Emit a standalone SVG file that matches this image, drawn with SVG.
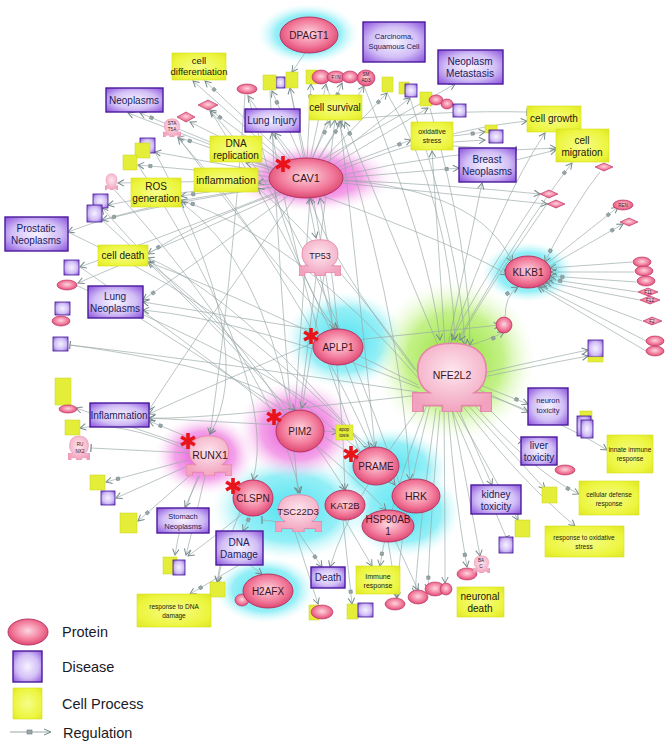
<svg xmlns="http://www.w3.org/2000/svg" xmlns:xlink="http://www.w3.org/1999/xlink" width="669" height="746" viewBox="0 0 669 746">
<defs>
<style>
text{font-family:"Liberation Sans",Arial,sans-serif;text-anchor:middle}
.c{fill:none;stroke:#98a6a6;stroke-width:.65;marker-end:url(#b)}
.r{fill:none;stroke:#98a6a6;stroke-width:.65;marker-end:url(#a)}
.t{fill:none;stroke:#98a6a6;stroke-width:.65;marker-end:url(#t)}
.p{fill:url(#gP);stroke:#b42c5c;stroke-width:.9}
.d{fill:url(#gD);stroke:#4a1a9c;stroke-width:1.4}
.y{fill:url(#gY);stroke:#d6e21c;stroke-width:.6}
.sd{fill:url(#gD);stroke:#3e1690;stroke-width:.8}
.sy{fill:#e4ee38;stroke:#c8d41c;stroke-width:.5}
.sp{fill:url(#gP);stroke:#b42c5c;stroke-width:.6}
.pt{fill:#3b1426;font-size:10px}
.dt{fill:#221a5e;font-size:10px}
.yt{fill:#222008;font-size:10px}
.tiny{fill:#3b1426;font-size:4.6px}
.lg{fill:#1a1a2a;font-size:14.5px;text-anchor:start}
</style>
<radialGradient id="gP" cx="50%" cy="45%" r="60%"><stop offset="0" stop-color="#fcd6e0"/><stop offset=".6" stop-color="#f27a9a"/><stop offset="1" stop-color="#d73c6a"/></radialGradient>
<radialGradient id="gR" cx="50%" cy="40%" r="60%"><stop offset="0" stop-color="#fde6ee"/><stop offset="1" stop-color="#f2a2be"/></radialGradient>
<radialGradient id="gD" cx="50%" cy="50%" r="70%"><stop offset="0" stop-color="#f6f2ff"/><stop offset=".55" stop-color="#d2bff6"/><stop offset="1" stop-color="#8a50dc"/></radialGradient>
<radialGradient id="gY" cx="50%" cy="50%" r="70%"><stop offset="0" stop-color="#f6fd8a"/><stop offset=".7" stop-color="#ecf53c"/><stop offset="1" stop-color="#dde624"/></radialGradient>
<radialGradient id="hC"><stop offset="0" stop-color="#4fe2f0"/><stop offset=".65" stop-color="#82ecf5" stop-opacity=".85"/><stop offset="1" stop-color="#d2f9fc" stop-opacity="0"/></radialGradient>
<radialGradient id="hM"><stop offset="0" stop-color="#e23ed2"/><stop offset=".6" stop-color="#f083e2" stop-opacity=".75"/><stop offset="1" stop-color="#fbe0f6" stop-opacity="0"/></radialGradient>
<radialGradient id="hG"><stop offset="0" stop-color="#8ede2c"/><stop offset=".6" stop-color="#b4ee6a" stop-opacity=".8"/><stop offset="1" stop-color="#e8fbd0" stop-opacity="0"/></radialGradient>
<marker id="a" viewBox="-16 -5 18 10" refX="0" refY="0" markerWidth="18" markerHeight="10" markerUnits="userSpaceOnUse" orient="auto" overflow="visible">
<path d="M-6,-3.2L0,0L-6,3.2" fill="none" stroke="#74888a" stroke-width="1"/><rect x="-14" y="-1.6" width="3.2" height="3.2" fill="#9aa6a6" stroke="#74888a" stroke-width=".6"/></marker>
<marker id="b" viewBox="-8 -5 10 10" refX="0" refY="0" markerWidth="10" markerHeight="10" markerUnits="userSpaceOnUse" orient="auto" overflow="visible">
<path d="M-6,-3.2L0,0L-6,3.2" fill="none" stroke="#74888a" stroke-width="1"/></marker>
<marker id="t" viewBox="-4 -5 8 10" refX="0" refY="0" markerWidth="8" markerHeight="10" markerUnits="userSpaceOnUse" orient="auto" overflow="visible">
<path d="M0,-4V4" fill="none" stroke="#74888a" stroke-width="1.2"/></marker>
<symbol id="rec" viewBox="0 0 100 90" preserveAspectRatio="none">
<path d="M22,66C4,56 2,26 18,13C32,1 68,1 82,13C98,26 96,56 78,66L100,66L100,90L86,90L86,82L62,82L62,90L38,90L38,82L14,82L14,90L0,90L0,66Z" fill="url(#gR)" stroke="#e486a8" stroke-width="2"/>
</symbol>
<g id="ast"><path d="M0,-8V8M-6.9,-4L6.9,4M-6.9,4L6.9,-4" stroke="#e8141a" stroke-width="3.6"/></g>
</defs>
<rect width="669" height="746" fill="#fff"/>

<g id="halos">
<ellipse cx="308" cy="34" rx="50" ry="30" fill="url(#hC)"/>
<ellipse cx="312" cy="178" rx="82" ry="34" fill="url(#hM)"/>
<ellipse cx="528" cy="272" rx="46" ry="30" fill="url(#hC)"/>
<ellipse cx="345" cy="340" rx="60" ry="48" fill="url(#hC)"/>
<ellipse cx="455" cy="360" rx="80" ry="80" fill="url(#hG)"/>
<ellipse cx="390" cy="470" rx="58" ry="42" fill="url(#hC)"/>
<ellipse cx="405" cy="512" rx="55" ry="45" fill="url(#hC)"/>
<ellipse cx="290" cy="508" rx="78" ry="52" fill="url(#hC)"/>
<ellipse cx="205" cy="455" rx="50" ry="40" fill="url(#hM)"/>
<ellipse cx="297" cy="430" rx="60" ry="50" fill="url(#hM)"/>
<ellipse cx="265" cy="590" rx="50" ry="33" fill="url(#hC)"/>
</g>

<g id="connectors">
<path class="r" d="M300,170L205,81"/><path class="c" d="M296,172L193,81"/>
<path class="r" d="M290,175L140,113"/><path class="c" d="M292,176L128,113"/>
<path class="c" d="M300,165L275,133"/><path class="r" d="M310,162L330,121"/><path class="r" d="M316,164L342,121"/>
<path class="c" d="M290,175L246,163"/><path class="c" d="M285,178L258,183"/>
<path class="r" d="M285,182Q220,190 181,196"/><path class="c" d="M284,186Q150,200 68,232"/>
<path class="r" d="M288,190Q200,220 148,254"/><path class="c" d="M308,198L316,238"/>
<path class="r" d="M330,170L411,140"/><path class="c" d="M335,172Q440,130 527,121"/>
<path class="c" d="M338,176Q450,150 556,148"/><path class="r" d="M340,178L459,168"/>
<path class="c" d="M342,180Q450,185 540,194"/><path class="c" d="M342,183Q460,195 547,204"/>
<path class="r" d="M302,160L272,91"/><path class="c" d="M304,160L290,88"/><path class="r" d="M307,160L311,84"/>
<path class="c" d="M310,160L326,84"/><path class="r" d="M312,160L342,83"/><path class="c" d="M316,162L364,86"/>
<path class="r" d="M320,163L387,93"/><path class="c" d="M324,165L410,98"/><path class="c" d="M328,168L428,108"/>
<path class="c" d="M295,165L248,96"/><path class="c" d="M318,162L455,84"/>
<path class="r" d="M292,170L210,110"/><path class="c" d="M290,172L190,122"/><path class="r" d="M288,174L178,137"/>
<path class="c" d="M287,176L155,152"/><path class="r" d="M286,178L138,165"/><path class="c" d="M286,180L118,183"/>
<path class="c" d="M286,183Q180,190 108,205"/><path class="r" d="M286,185Q180,200 102,220"/>
<path class="c" d="M288,188Q180,230 80,267"/><path class="c" d="M290,190Q180,240 78,283"/>
<path class="r" d="M292,193Q200,260 143,300"/><path class="c" d="M296,196Q200,330 149,410"/>
<path class="c" d="M305,53L292,72"/>
<path class="r" d="M440,350L345,122"/><path class="c" d="M450,345Q500,200 545,133"/>
<path class="r" d="M455,345Q520,230 572,163"/><path class="c" d="M448,345L482,183"/>
<path class="c" d="M445,345L432,151"/><path class="r" d="M460,348Q490,340 504,332"/>
<path class="c" d="M475,375Q540,360 588,350"/><path class="c" d="M478,378Q540,365 588,356"/>
<path class="r" d="M480,385L528,404"/><path class="c" d="M480,390L528,412"/>
<path class="t" d="M475,395L521,441"/><path class="c" d="M478,392Q560,420 607,450"/>
<path class="r" d="M470,400Q530,470 579,494"/><path class="c" d="M465,402L545,489"/>
<path class="c" d="M462,405Q520,480 575,526"/><path class="c" d="M458,408L492,485"/>
<path class="c" d="M456,410L518,520"/><path class="t" d="M452,410L506,537"/>
<path class="r" d="M448,410Q455,500 467,567"/><path class="c" d="M452,410Q470,500 480,556"/>
<path class="c" d="M444,410Q445,520 445,583"/><path class="r" d="M440,410Q430,520 428,590"/>
<path class="c" d="M436,408Q420,520 415,594"/><path class="c" d="M430,405Q400,520 397,598"/>
<path class="r" d="M428,402Q390,500 380,566"/><path class="c" d="M420,395Q200,420 149,418"/>
<path class="c" d="M418,385Q250,300 148,262"/><path class="r" d="M420,380Q300,240 181,200"/>
<path class="c" d="M422,378Q330,250 258,188"/><path class="c" d="M420,388Q250,320 143,310"/>
<path class="t" d="M418,392Q200,360 70,345"/><path class="c" d="M425,400Q350,500 330,567"/>
<path class="c" d="M415,370Q330,260 310,198"/>
<path class="r" d="M545,265L618,207"/><path class="r" d="M548,267L623,224"/>
<path class="c" d="M632,262L550,268"/><path class="c" d="M634,272L551,272"/><path class="r" d="M636,282L550,276"/>
<path class="r" d="M638,292L548,279"/><path class="c" d="M640,300L546,282"/><path class="c" d="M642,321L543,284"/>
<path class="c" d="M646,341L540,286"/><path class="c" d="M646,351L538,287"/>
<path class="r" d="M505,318Q505,295 518,287"/><path class="c" d="M340,180Q480,190 512,262"/>
<path class="c" d="M320,195Q470,250 507,275"/><path class="r" d="M600,172L588,188Q560,230 545,262"/>
<path class="c" d="M322,431L338,432"/><path class="c" d="M280,425L149,418"/>
<path class="c" d="M285,415Q240,330 148,262"/><path class="c" d="M290,410Q260,260 181,202"/>
<path class="c" d="M295,410L310,198"/><path class="c" d="M300,410L335,120"/>
<path class="t" d="M190,453L91,448"/><path class="r" d="M188,460L106,482"/><path class="c" d="M190,465L116,498"/>
<path class="r" d="M194,472L138,521"/><path class="c" d="M200,475L185,507"/><path class="r" d="M195,440L149,421"/>
<path class="c" d="M188,450Q120,420 80,428"/><path class="c" d="M190,447L76,408"/>
<path class="c" d="M198,476Q180,520 175,555"/><path class="c" d="M205,476Q195,520 186,555"/>
<path class="r" d="M250,516L243,531"/><path class="c" d="M245,512Q210,540 188,556"/>
<path class="c" d="M240,512Q220,560 218,583"/><path class="r" d="M298,532L322,567"/>
<path class="c" d="M295,532L318,604"/><path class="c" d="M345,520L372,566"/><path class="r" d="M343,520L352,604"/>
<path class="c" d="M388,541L397,598"/><path class="c" d="M395,540L418,590"/>
<path class="r" d="M239,565L190,594"/><path class="c" d="M250,565L262,574"/><path class="c" d="M220,565L217,582"/>
<path class="t" d="M300,532Q280,520 262,520"/>
<path class="c" d="M360,452Q300,300 272,133"/><path class="c" d="M375,448Q360,300 340,121"/>
<path class="c" d="M395,485Q250,300 148,258"/><path class="c" d="M400,485Q300,200 210,111"/>
<path class="c" d="M372,448Q280,250 178,138"/><path class="c" d="M360,460L115,302"/>
<path class="c" d="M365,455Q200,320 102,208"/>
<path class="c" d="M320,276L334,329"/><path class="c" d="M324,276L302,408"/>
<path class="c" d="M338,329Q330,250 320,198"/><path class="c" d="M315,330L143,302"/>
<path class="c" d="M320,340Q200,390 149,414"/><path class="c" d="M355,340L500,325"/>
<path class="c" d="M70,345Q250,370 295,410"/><path class="c" d="M75,285Q300,380 370,448"/>
<path class="c" d="M68,232Q280,330 395,485"/><path class="c" d="M80,267Q300,420 386,510"/>
<path class="c" d="M102,220Q280,380 345,490"/><path class="c" d="M110,185Q270,360 300,493"/>
<path class="c" d="M138,165Q280,380 253,480"/><path class="c" d="M155,152Q260,350 210,434"/>
<path class="c" d="M178,137Q300,300 338,329"/><path class="c" d="M210,110Q330,300 375,448"/>
<path class="c" d="M270,91Q280,300 298,493"/><path class="c" d="M290,88Q340,300 345,490"/>
<path class="c" d="M326,84Q400,300 410,480"/><path class="c" d="M364,86Q430,250 440,340"/>
<path class="c" d="M387,93Q450,200 455,340"/><path class="c" d="M410,98Q460,250 465,345"/>
<path class="c" d="M430,108Q470,250 470,345"/><path class="c" d="M245,95Q230,300 210,434"/>
<path class="c" d="M248,95Q300,300 338,329"/>
<path class="c" d="M540,194Q470,300 452,340"/><path class="c" d="M547,204Q480,300 460,340"/>
<path class="r" d="M453,136L485,132"/><path class="c" d="M453,142L485,140"/><path class="t" d="M340,120Q450,110 527,112"/>
<path class="t" d="M453,146L516,150"/><path class="c" d="M516,160L556,150"/>
</g>

<g id="small-nodes">
<rect class="sd" x="276" y="77" width="9" height="11"/><rect class="sy" x="263" y="75" width="13" height="15"/>
<rect class="sy" x="286" y="72" width="12" height="16"/><rect class="sy" x="306" y="70" width="11" height="14"/>
<ellipse class="sp" cx="321" cy="77" rx="9" ry="7"/><ellipse class="sp" cx="336" cy="77" rx="9" ry="6"/>
<ellipse class="sp" cx="350" cy="77" rx="8" ry="6"/><ellipse class="sp" cx="366" cy="78" rx="9" ry="8"/>
<text class="tiny" x="336" y="79">FYN</text><text class="tiny" x="366" y="76">SM</text><text class="tiny" x="366" y="82">AD3</text>
<rect class="sy" x="382" y="77" width="11" height="15"/>
<rect class="sy" x="399" y="82" width="10" height="12"/><rect class="sd" x="405" y="84" width="12" height="13"/>
<rect class="sy" x="420" y="92" width="12" height="14"/><ellipse class="sp" cx="436" cy="100" rx="7" ry="5"/>
<ellipse class="sp" cx="447" cy="104" rx="6" ry="5"/><rect class="sd" x="453" y="104" width="13" height="13"/>
<ellipse class="sp" cx="247" cy="89" rx="10" ry="5"/>
<polygon class="sp" points="198,105 208,100 218,105 208,110"/>
<polygon class="sp" points="177,117 186,112 195,117 186,122"/>
<use xlink:href="#rec" x="163" y="118" width="18" height="19"/>
<text class="tiny" x="172" y="125">STA</text><text class="tiny" x="172" y="131">T5A</text>
<rect class="sd" x="140" y="138" width="15" height="15"/><rect class="sy" x="135" y="143" width="15" height="15"/>
<rect class="sy" x="123" y="155" width="14" height="15"/>
<use xlink:href="#rec" x="105" y="173" width="13" height="17"/>
<rect class="sd" x="93" y="194" width="15" height="14"/><rect class="sd" x="87" y="205" width="15" height="17"/>
<rect class="sd" x="64" y="260" width="15" height="15"/><ellipse class="sp" cx="67" cy="285" rx="10" ry="5"/>
<rect class="sd" x="55" y="302" width="15" height="13"/><ellipse class="sp" cx="61" cy="321" rx="9" ry="5"/>
<rect class="sd" x="53" y="337" width="15" height="14"/>
<rect class="sy" x="55" y="378" width="16" height="27"/><ellipse class="sp" cx="68" cy="409" rx="9" ry="4"/>
<rect class="sy" x="65" y="420" width="15" height="15"/>
<use xlink:href="#rec" x="68" y="435" width="22" height="25"/>
<text class="tiny" x="80" y="446">RU</text><text class="tiny" x="80" y="453">NX2</text>
<rect class="sy" x="90" y="475" width="15" height="15"/><rect class="sd" x="101" y="491" width="14" height="14"/>
<rect class="sy" x="120" y="513" width="17" height="20"/>
<rect class="sy" x="163" y="557" width="14" height="17"/><rect class="sd" x="173" y="560" width="12" height="15"/>
<rect class="sy" x="210" y="582" width="15" height="15"/>
<ellipse class="sp" cx="242" cy="600" rx="7" ry="6"/>
<rect class="sy" x="309" y="605" width="10" height="15"/><ellipse class="sp" cx="322" cy="612" rx="11" ry="7"/>
<rect class="sy" x="347" y="604" width="11" height="15"/><rect class="sd" x="358" y="603" width="15" height="14"/>
<ellipse class="sp" cx="395" cy="604" rx="10" ry="6"/>
<ellipse class="sp" cx="418" cy="597" rx="10" ry="7"/><ellipse class="sp" cx="435" cy="589" rx="10" ry="7"/>
<ellipse class="sp" cx="446" cy="589" rx="6" ry="6"/><ellipse class="sp" cx="467" cy="574" rx="10" ry="6"/>
<use xlink:href="#rec" x="473" y="555" width="17" height="18"/>
<text class="tiny" x="481" y="562">BA</text><text class="tiny" x="481" y="568">C</text>
<rect class="sy" x="515" y="520" width="15" height="17"/><rect class="sd" x="499" y="537" width="14" height="16"/>
<rect class="sy" x="542" y="487" width="15" height="16"/>
<ellipse class="sp" cx="565" cy="470" rx="10" ry="5"/>
<rect class="sy" x="580" y="411" width="12" height="8"/><rect class="sd" x="577" y="416" width="14" height="20"/><rect class="sd" x="581" y="420" width="12" height="18"/>
<rect class="sd" x="588" y="340" width="15" height="17"/><rect class="sy" x="588" y="357" width="15" height="5"/>
<ellipse class="sp" cx="504" cy="325" rx="8" ry="8"/>
<polygon class="sp" points="540,194 549,190 558,194 549,198"/>
<polygon class="sp" points="547,204 556,200 565,204 556,208"/>
<ellipse class="sp" cx="623" cy="205" rx="10" ry="5"/><text class="tiny" x="623" y="207">REN</text>
<polygon class="sp" points="620,222 629,218 638,222 629,226"/>
<ellipse class="sp" cx="642" cy="262" rx="9" ry="5"/><ellipse class="sp" cx="644" cy="271" rx="9" ry="5"/>
<ellipse class="sp" cx="646" cy="281" rx="9" ry="5"/>
<polygon class="sp" points="638,292 648,288 658,292 648,296"/><text class="tiny" x="648" y="294">F11</text>
<polygon class="sp" points="640,300 650,296 660,300 650,304"/><text class="tiny" x="650" y="302">F12</text>
<polygon class="sp" points="643,321 652,317 662,321 652,325"/><text class="tiny" x="652" y="323">F2</text>
<ellipse class="sp" cx="655" cy="341" rx="9" ry="5"/><ellipse class="sp" cx="655" cy="351" rx="9" ry="5"/>
<polygon class="sp" points="595,167 604,163 613,167 604,171"/>
<rect class="sy" x="485" y="125" width="12" height="8"/><rect class="sd" x="489" y="130" width="14" height="13"/>
<rect class="sy" x="336" y="425" width="17" height="15"/><text class="tiny" x="344" y="431">apop</text><text class="tiny" x="344" y="437">tosis</text>
</g>

<g id="n-DPAGT1"><ellipse class="p" cx="309" cy="35" rx="29" ry="18"/><text class="pt" x="309" y="39">DPAGT1</text></g>
<g id="n-CAV1"><ellipse class="p" cx="306" cy="178" rx="37" ry="20"/><text class="pt" x="306" y="182" style="font-size:11px">CAV1</text></g>
<g id="n-TP53"><use xlink:href="#rec" x="299" y="238" width="42" height="38"/><text class="pt" x="320" y="259" style="font-size:9px">TP53</text></g>
<g id="n-APLP1"><ellipse class="p" cx="338" cy="347" rx="25" ry="18"/><text class="pt" x="338" y="351">APLP1</text></g>
<g id="n-NFE2L2"><use xlink:href="#rec" x="412" y="340" width="80" height="72"/><text class="pt" x="452" y="379" style="font-size:10.5px">NFE2L2</text></g>
<g id="n-KLKB1"><ellipse class="p" cx="528" cy="272" rx="23" ry="16"/><text class="pt" x="528" y="276">KLKB1</text></g>
<g id="n-RUNX1"><use xlink:href="#rec" x="186" y="434" width="46" height="42"/><text class="pt" x="210" y="459" style="font-size:10.5px">RUNX1</text></g>
<g id="n-PIM2"><ellipse class="p" cx="300" cy="431" rx="24" ry="21"/><text class="pt" x="300" y="435">PIM2</text></g>
<g id="n-PRAME"><ellipse class="p" cx="376" cy="466" rx="23" ry="19"/><text class="pt" x="376" y="470">PRAME</text></g>
<g id="n-HRK"><ellipse class="p" cx="416" cy="496" rx="24" ry="17"/><text class="pt" x="416" y="500" style="font-size:10.5px">HRK</text></g>
<g id="n-HSP90AB1"><ellipse class="p" cx="388" cy="526" rx="26" ry="16"/><text class="pt" x="388" y="523">HSP90AB</text><text class="pt" x="388" y="535">1</text></g>
<g id="n-KAT2B"><ellipse class="p" cx="345" cy="505" rx="20" ry="15"/><text class="pt" x="345" y="509" style="font-size:9.5px">KAT2B</text></g>
<g id="n-CLSPN"><ellipse class="p" cx="253" cy="498" rx="20" ry="18"/><text class="pt" x="253" y="502">CLSPN</text></g>
<g id="n-TSC22D3"><use xlink:href="#rec" x="275" y="493" width="47" height="39"/><text class="pt" x="298" y="515" style="font-size:9.5px">TSC22D3</text></g>
<g id="n-H2AFX"><ellipse class="p" cx="268" cy="591" rx="25" ry="17"/><text class="pt" x="268" y="595">H2AFX</text></g>

<g id="asterisks">
<use xlink:href="#ast" x="283" y="164"/><use xlink:href="#ast" x="311" y="336"/>
<use xlink:href="#ast" x="274" y="417"/><use xlink:href="#ast" x="188" y="441"/>
<use xlink:href="#ast" x="351" y="454"/><use xlink:href="#ast" x="233" y="486"/>
</g>

<g id="n-Carcinoma"><rect class="d" x="363" y="22" width="62" height="40"/><text class="dt" x="394" y="39" style="font-size:7.5px">Carcinoma,</text><text class="dt" x="394" y="49" style="font-size:7.5px">Squamous Cell</text></g>
<g id="n-NeoplasmMetastasis"><rect class="d" x="438" y="50" width="65" height="34"/><text class="dt" x="470" y="65">Neoplasm</text><text class="dt" x="470" y="77">Metastasis</text></g>
<g id="n-Neoplasms"><rect class="d" x="106" y="88" width="57" height="24"/><text class="dt" x="134" y="104">Neoplasms</text></g>
<g id="n-LungInjury"><rect class="d" x="245" y="109" width="55" height="23"/><text class="dt" x="272" y="124">Lung Injury</text></g>
<g id="n-BreastNeoplasms"><rect class="d" x="459" y="148" width="57" height="34"/><text class="dt" x="487" y="163">Breast</text><text class="dt" x="487" y="175">Neoplasms</text></g>
<g id="n-ProstaticNeoplasms"><rect class="d" x="5" y="217" width="63" height="34"/><text class="dt" x="36" y="232">Prostatic</text><text class="dt" x="36" y="244">Neoplasms</text></g>
<g id="n-LungNeoplasms"><rect class="d" x="88" y="286" width="55" height="32"/><text class="dt" x="115" y="300">Lung</text><text class="dt" x="115" y="312">Neoplasms</text></g>
<g id="n-Inflammation"><rect class="d" x="90" y="403" width="59" height="24"/><text class="dt" x="119" y="419">Inflammation</text></g>
<g id="n-StomachNeoplasms"><rect class="d" x="157" y="508" width="52" height="25"/><text class="dt" x="183" y="519" style="font-size:7.5px">Stomach</text><text class="dt" x="183" y="529" style="font-size:7.5px">Neoplasms</text></g>
<g id="n-DNADamage"><rect class="d" x="216" y="531" width="47" height="34"/><text class="dt" x="239" y="546">DNA</text><text class="dt" x="239" y="558">Damage</text></g>
<g id="n-Death"><rect class="d" x="311" y="567" width="34" height="21"/><text class="dt" x="328" y="581">Death</text></g>
<g id="n-neurontoxicity"><rect class="d" x="528" y="388" width="40" height="37"/><text class="dt" x="548" y="403" style="font-size:7.5px">neuron</text><text class="dt" x="548" y="413" style="font-size:7.5px">toxicity</text></g>
<g id="n-livertoxicity"><rect class="d" x="521" y="437" width="36" height="28"/><text class="dt" x="539" y="449">liver</text><text class="dt" x="539" y="461">toxicity</text></g>
<g id="n-kidneytoxicity"><rect class="d" x="471" y="485" width="50" height="29"/><text class="dt" x="496" y="498">kidney</text><text class="dt" x="496" y="510">toxicity</text></g>

<g id="n-celldifferentiation"><rect class="y" x="172" y="53" width="54" height="27"/><text class="yt" x="199" y="64" style="font-size:9.5px">cell</text><text class="yt" x="199" y="75" style="font-size:9.5px">differentiation</text></g>
<g id="n-cellsurvival"><rect class="y" x="309" y="95" width="53" height="25"/><text class="yt" x="335" y="111">cell survival</text></g>
<g id="n-cellgrowth"><rect class="y" x="527" y="106" width="54" height="26"/><text class="yt" x="554" y="122">cell growth</text></g>
<g id="n-cellmigration"><rect class="y" x="556" y="129" width="53" height="33"/><text class="yt" x="582" y="144">cell</text><text class="yt" x="582" y="156">migration</text></g>
<g id="n-oxidativestress"><rect class="y" x="411" y="122" width="42" height="28"/><text class="yt" x="432" y="134" style="font-size:7px">oxidative</text><text class="yt" x="432" y="143" style="font-size:7px">stress</text></g>
<g id="n-DNAreplication"><rect class="y" x="210" y="136" width="52" height="26"/><text class="yt" x="236" y="147">DNA</text><text class="yt" x="236" y="159">replication</text></g>
<g id="n-inflammation"><rect class="y" x="194" y="168" width="64" height="24"/><text class="yt" x="226" y="184" style="font-size:10.5px">inflammation</text></g>
<g id="n-ROSgeneration"><rect class="y" x="131" y="178" width="50" height="29"/><text class="yt" x="156" y="190">ROS</text><text class="yt" x="156" y="202">generation</text></g>
<g id="n-celldeath"><rect class="y" x="98" y="245" width="50" height="21"/><text class="yt" x="123" y="259">cell death</text></g>
<g id="n-innateimmune"><rect class="y" x="607" y="435" width="46" height="38"/><text class="yt" x="630" y="452" style="font-size:6.5px">innate immune</text><text class="yt" x="630" y="461" style="font-size:6.5px">response</text></g>
<g id="n-cellulardefense"><rect class="y" x="579" y="481" width="60" height="34"/><text class="yt" x="609" y="497" style="font-size:6.5px">cellular defense</text><text class="yt" x="609" y="506" style="font-size:6.5px">response</text></g>
<g id="n-responseoxidative"><rect class="y" x="545" y="526" width="79" height="31"/><text class="yt" x="584" y="540" style="font-size:6.5px">response to oxidative</text><text class="yt" x="584" y="549" style="font-size:6.5px">stress</text></g>
<g id="n-immuneresponse"><rect class="y" x="356" y="566" width="44" height="28"/><text class="yt" x="378" y="579" style="font-size:7px">Immune</text><text class="yt" x="378" y="588" style="font-size:7px">response</text></g>
<g id="n-responseDNA"><rect class="y" x="137" y="594" width="74" height="33"/><text class="yt" x="174" y="609" style="font-size:6.5px">response to DNA</text><text class="yt" x="174" y="618" style="font-size:6.5px">damage</text></g>
<g id="n-neuronaldeath"><rect class="y" x="457" y="587" width="47" height="30"/><text class="yt" x="480" y="600">neuronal</text><text class="yt" x="480" y="612">death</text></g>

<g id="legend">
<ellipse class="p" cx="28" cy="632" rx="20" ry="13"/><text class="lg" x="62" y="637">Protein</text>
<rect class="d" x="13" y="651" width="29" height="31"/><text class="lg" x="62" y="672">Disease</text>
<rect class="y" x="13" y="688" width="29" height="31"/><text class="lg" x="62" y="709">Cell Process</text>
<path d="M10,732H50" stroke="#98a6a6" stroke-width="1" fill="none"/><rect x="27" y="730" width="5" height="4" fill="#9aa6a6" stroke="#74888a" stroke-width=".7"/>
<path d="M44,729L51,732L44,735" fill="none" stroke="#74888a" stroke-width="1"/>
<text class="lg" x="63" y="738">Regulation</text>
</g>
</svg>
